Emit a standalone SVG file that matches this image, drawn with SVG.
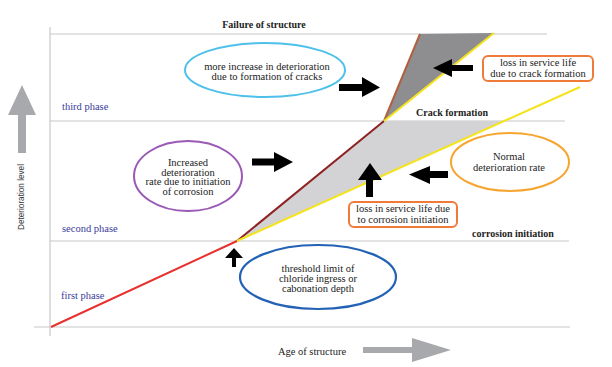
<svg xmlns="http://www.w3.org/2000/svg" width="612" height="367" viewBox="0 0 612 367">
<style>
.grid{stroke:#c8c8c8;stroke-width:1.2;fill:none}
.t{font-family:"Liberation Serif","DejaVu Serif",serif;font-size:10.5px;fill:#222;text-anchor:middle}
.b{font-family:"Liberation Serif","DejaVu Serif",serif;font-size:10px;font-weight:bold;fill:#222;text-anchor:middle}
.ph{font-family:"Liberation Serif","DejaVu Serif",serif;font-size:10.5px;fill:#3b3b9a}
.arr{fill:#000}
</style>
<rect width="612" height="367" fill="#fff"/>
<g id="axes">
<line class="grid" x1="50" y1="27" x2="50" y2="336"/>
<line class="grid" x1="50" y1="34" x2="547" y2="34"/>
<line class="grid" x1="50" y1="121" x2="565" y2="121"/>
<line class="grid" x1="50" y1="241" x2="569" y2="241"/>
<line class="grid" x1="34" y1="327" x2="570" y2="327"/>
</g>
<g id="regions">
<polygon points="237,241 384,121 504,121" fill="#d3d3d5"/>
<polygon points="384,121 420,34 494,33" fill="#8e8e91"/>
</g>
<g id="connectors">
<line x1="51" y1="327" x2="237" y2="241" stroke="#e8302e" stroke-width="2"/>
<line x1="237" y1="241" x2="384" y2="121" stroke="#8e2222" stroke-width="2"/>
<line x1="384" y1="121" x2="420" y2="34" stroke="#b0603e" stroke-width="2"/>
<line x1="384" y1="121" x2="494" y2="33" stroke="#f5e31c" stroke-width="2"/>
<line x1="237" y1="241" x2="580" y2="87" stroke="#f5e31c" stroke-width="2"/>
<polygon class="arr" points="339,84 362,84 362,77 380,87.5 362,97 362,91 339,91"/>
<polygon class="arr" points="473,65 452,65 452,59 433,68 452,77 452,71 473,71"/>
<polygon class="arr" points="252,158.5 274,158.5 274,152 293,162 274,172 274,165.5 252,165.5"/>
<polygon class="arr" points="366,197 366,180 358,180 370,163 382,180 373,180 373,197"/>
<polygon class="arr" points="448,171 430,171 430,166 409,174.5 430,184 430,178 448,178"/>
<polygon class="arr" points="232,267 232,258 225,258 234,248 243,258 236,258 236,267"/>
</g>
<g id="axis-arrows">
<polygon points="18,153 18,115 8,115 22,85 36,115 26,115 26,153" fill="#a8a9ac"/>
<polygon points="363,347 412,347 412,338 451,350 412,362 412,353 363,353" fill="#a8a9ac"/>
</g>
<g id="labels">
<text class="b" x="264" y="28">Failure of structure</text>
<text class="b" x="452" y="116">Crack formation</text>
<text class="b" x="513" y="237">corrosion initiation</text>
<text class="ph" x="62" y="110">third phase</text>
<text class="ph" x="62" y="232">second phase</text>
<text class="ph" x="61" y="299">first phase</text>
<text class="t" x="312" y="355">Age of structure</text>
<text x="0" y="0" transform="translate(24,197) rotate(-90)" font-family="Liberation Sans,sans-serif" font-size="8.5" fill="#333" text-anchor="middle" textLength="66" lengthAdjust="spacingAndGlyphs">Deterioration  level</text>
</g>
<g id="cracks-ellipse">
<ellipse cx="265" cy="70" rx="80" ry="27" fill="#fff" stroke="#4ec0ea" stroke-width="2"/>
<text class="t" x="267" y="70">more increase in deterioration</text>
<text class="t" x="267" y="80">due to formation of cracks</text>
</g>
<g id="corrosion-ellipse">
<ellipse cx="188" cy="176" rx="54" ry="35" fill="#fff" stroke="#9b59b6" stroke-width="2"/>
<text class="t" x="188" y="166">Increased</text>
<text class="t" x="188" y="175.5">deterioration</text>
<text class="t" x="188" y="185">rate due to initiation</text>
<text class="t" x="188" y="194.5">of corrosion</text>
</g>
<g id="normal-ellipse">
<ellipse cx="510" cy="162" rx="59" ry="29" fill="#fff" stroke="#f7a531" stroke-width="2"/>
<text class="t" x="509" y="160">Normal</text>
<text class="t" x="509" y="171">deterioration rate</text>
</g>
<g id="threshold-ellipse">
<ellipse cx="318" cy="277" rx="78" ry="32" fill="#fff" stroke="#2462b5" stroke-width="2.2"/>
<text class="t" x="318" y="272">threshold limit of</text>
<text class="t" x="318" y="282">chloride ingress or</text>
<text class="t" x="318" y="292">cabonation depth</text>
</g>
<g id="crack-loss-box">
<rect x="483" y="56" width="110" height="25" rx="5" fill="#fff" stroke="#f07a3a" stroke-width="2"/>
<text class="t" x="538" y="66">loss in service life</text>
<text class="t" x="538" y="76.5">due to crack formation</text>
</g>
<g id="corrosion-loss-box">
<rect x="349" y="202" width="108" height="25" rx="5" fill="#fff" stroke="#f07a3a" stroke-width="2"/>
<text class="t" x="403" y="212">loss in service life due</text>
<text class="t" x="403" y="222.5">to corrosion initiation</text>
</g>
</svg>
